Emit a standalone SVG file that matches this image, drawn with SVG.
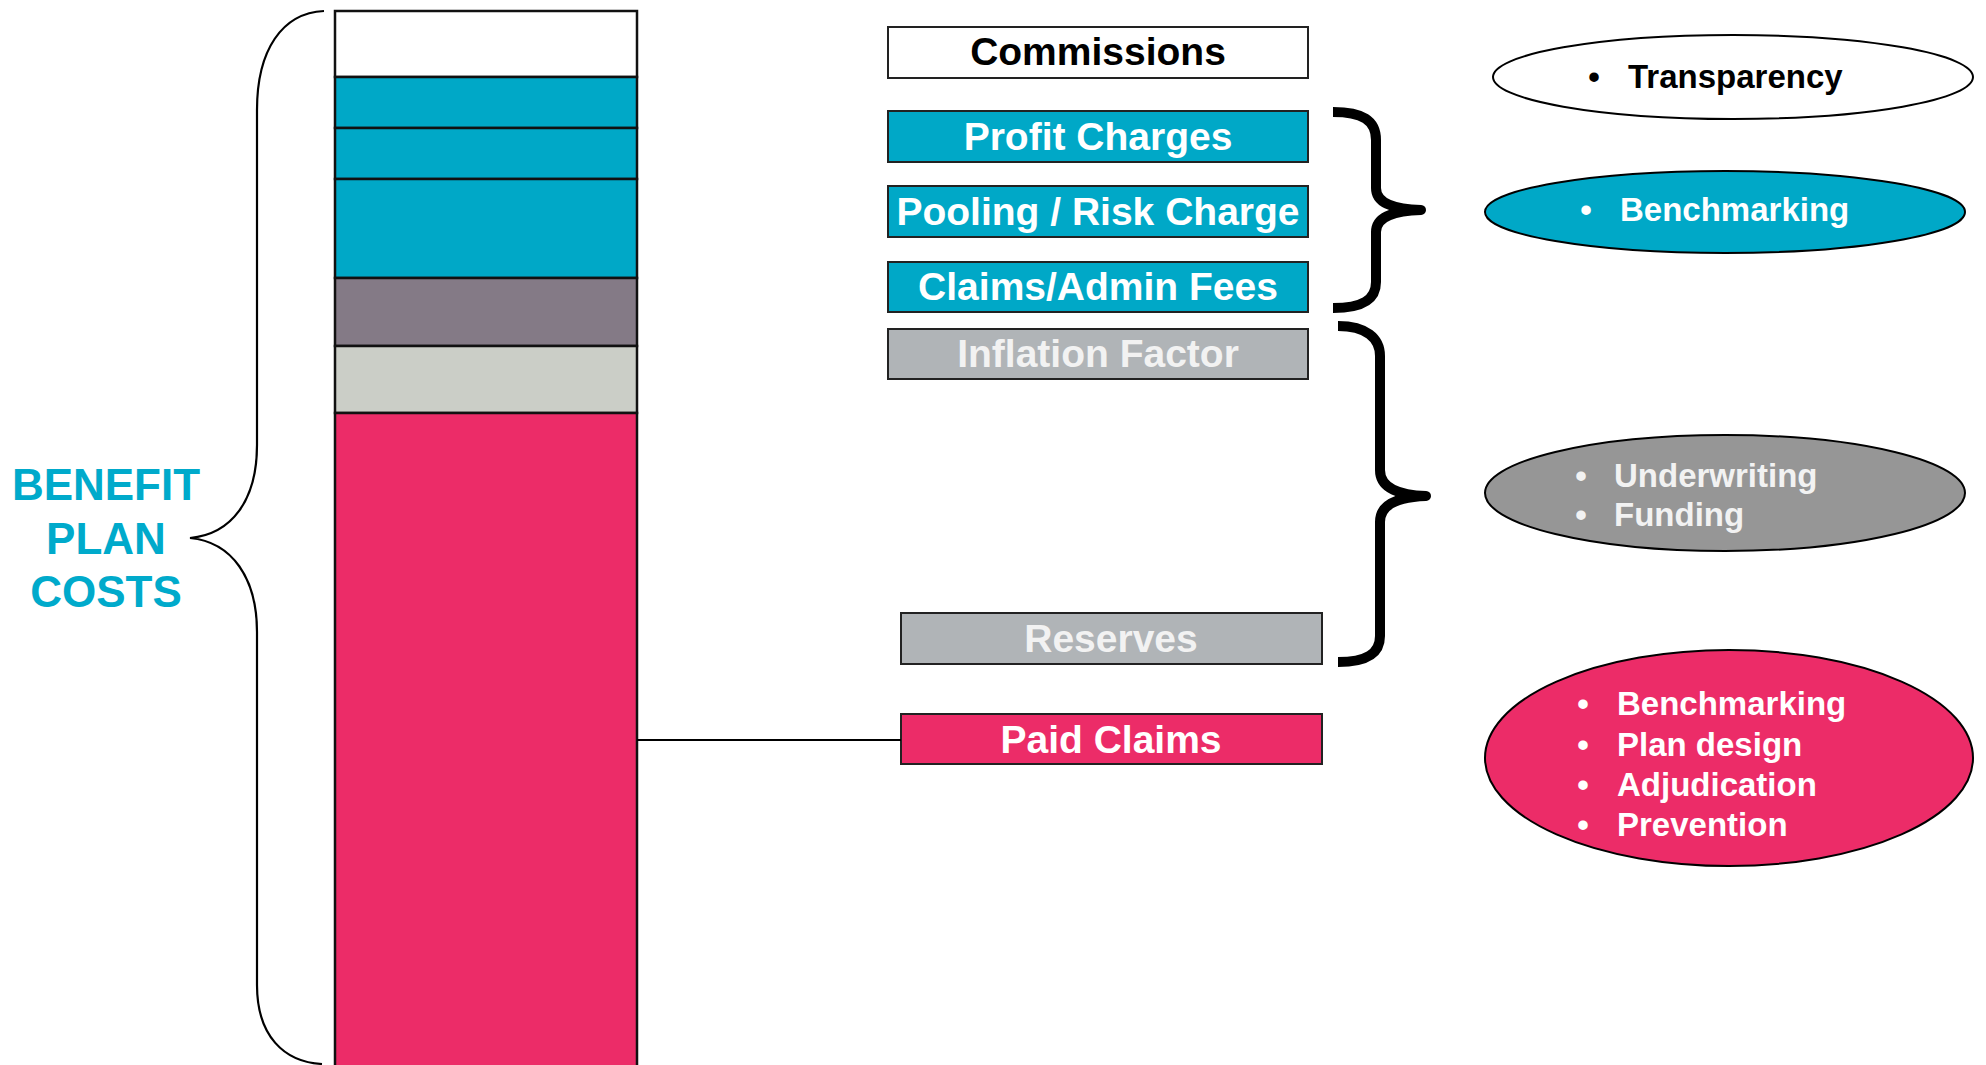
<svg xmlns="http://www.w3.org/2000/svg" width="1986" height="1065" viewBox="0 0 1986 1065">
<style>
.t{font-family:"Liberation Sans",Arial,Helvetica,sans-serif;font-weight:bold}
.box{stroke:#222;stroke-width:2}
.lbl{font-size:39px;text-anchor:middle}
.el{font-size:33px}
.bul{font-size:33px;text-anchor:middle}
.seg{stroke:#111;stroke-width:2.5}
.br{fill:none;stroke:#000;stroke-width:10;stroke-linejoin:round}
</style>
<rect width="1986" height="1065" fill="#fff"/>
<g id="bar">
<rect class="seg" x="335" y="11" width="302" height="66" fill="#fff"/>
<rect class="seg" x="335" y="77" width="302" height="51" fill="#00A8C7"/>
<rect class="seg" x="335" y="128" width="302" height="51" fill="#00A8C7"/>
<rect class="seg" x="335" y="179" width="302" height="99" fill="#00A8C7"/>
<rect class="seg" x="335" y="278" width="302" height="68" fill="#847A86"/>
<rect class="seg" x="335" y="346" width="302" height="67" fill="#CBCEC7"/>
<rect class="seg" x="335" y="413" width="302" height="660" fill="#EC2C68"/>
</g>
<g id="benefit-label">
<path d="M 324 11 C 282 13, 257 50, 257 110 L 257 445 C 257 500, 232 534, 190 538 C 232 542, 257 578, 257 632 L 257 985 C 257 1036, 284 1062, 322 1064" fill="none" stroke="#000" stroke-width="2.2"/>
<text class="t" x="106" y="500" font-size="44" fill="#00AACB" text-anchor="middle">BENEFIT</text>
<text class="t" x="106" y="554" font-size="44" fill="#00AACB" text-anchor="middle">PLAN</text>
<text class="t" x="106" y="607" font-size="44" fill="#00AACB" text-anchor="middle">COSTS</text>
</g>
<g id="commissions">
<rect class="box" x="888" y="27" width="420" height="51" fill="#fff"/>
<text class="t lbl" x="1098" y="65" fill="#000">Commissions</text>
</g>
<g id="profit-charges">
<rect class="box" x="888" y="111" width="420" height="51" fill="#00A8C7"/>
<text class="t lbl" x="1098" y="150" fill="#fff">Profit Charges</text>
</g>
<g id="pooling">
<rect class="box" x="888" y="186" width="420" height="51" fill="#00A8C7"/>
<text class="t lbl" x="1098" y="225" fill="#fff">Pooling / Risk Charge</text>
</g>
<g id="claims-admin">
<rect class="box" x="888" y="262" width="420" height="50" fill="#00A8C7"/>
<text class="t lbl" x="1098" y="300" fill="#fff">Claims/Admin Fees</text>
</g>
<g id="inflation">
<rect class="box" x="888" y="329" width="420" height="50" fill="#B0B4B7"/>
<text class="t lbl" x="1098" y="367" fill="#F2F2F2">Inflation Factor</text>
</g>
<g id="reserves">
<rect class="box" x="901" y="613" width="421" height="51" fill="#B0B4B7"/>
<text class="t lbl" x="1111" y="652" fill="#F2F2F2">Reserves</text>
</g>
<g id="paid-claims">
<rect class="box" x="901" y="714" width="421" height="50" fill="#EC2C68"/>
<text class="t lbl" x="1111" y="753" fill="#fff">Paid Claims</text>
</g>
<g id="connectors">
<line x1="637" y1="740" x2="901" y2="740" stroke="#000" stroke-width="2"/>
<path class="br" d="M 1333 112 C 1362 112, 1376 120, 1376 140 L 1376 188 C 1376 202, 1390 209, 1421 210 C 1390 211, 1376 218, 1376 232 L 1376 282 C 1376 300, 1362 308, 1333 308"/>
<path class="br" d="M 1338 326 C 1366 326, 1380 338, 1380 356 L 1380 470 C 1380 486, 1395 495, 1426 496 C 1395 497, 1380 506, 1380 522 L 1380 636 C 1380 654, 1366 662, 1338 662"/>
</g>
<g id="transparency">
<ellipse cx="1733" cy="77" rx="240" ry="42" fill="#fff" stroke="#000" stroke-width="2"/>
<text class="t bul" x="1594" y="88" fill="#000">•</text>
<text class="t el" x="1628" y="88" fill="#000">Transparency</text>
</g>
<g id="benchmarking">
<ellipse cx="1725" cy="212" rx="240" ry="41" fill="#00A8C7" stroke="#000" stroke-width="2"/>
<text class="t bul" x="1586" y="221" fill="#fff">•</text>
<text class="t el" x="1620" y="221" fill="#fff">Benchmarking</text>
</g>
<g id="underwriting-funding">
<ellipse cx="1725" cy="493" rx="240" ry="58" fill="#969696" stroke="#000" stroke-width="2"/>
<text class="t bul" x="1581" y="487" fill="#F2F2F2">•</text>
<text class="t el" x="1614" y="487" fill="#F2F2F2">Underwriting</text>
<text class="t bul" x="1581" y="526" fill="#F2F2F2">•</text>
<text class="t el" x="1614" y="526" fill="#F2F2F2">Funding</text>
</g>
<g id="claims-actions">
<ellipse cx="1729" cy="758" rx="244" ry="108" fill="#EC2C68" stroke="#000" stroke-width="2"/>
<text class="t bul" x="1583" y="715" fill="#fff">•</text>
<text class="t el" x="1617" y="715" fill="#fff">Benchmarking</text>
<text class="t bul" x="1583" y="756" fill="#fff">•</text>
<text class="t el" x="1617" y="756" fill="#fff">Plan design</text>
<text class="t bul" x="1583" y="796" fill="#fff">•</text>
<text class="t el" x="1617" y="796" fill="#fff">Adjudication</text>
<text class="t bul" x="1583" y="836" fill="#fff">•</text>
<text class="t el" x="1617" y="836" fill="#fff">Prevention</text>
</g>
</svg>
